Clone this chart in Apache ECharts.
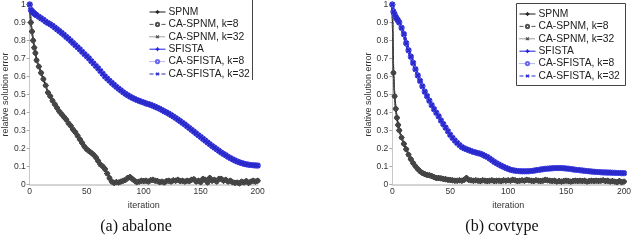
<!DOCTYPE html>
<html><head><meta charset="utf-8">
<script src="https://cdn.jsdelivr.net/npm/echarts@6/dist/echarts.min.js"></script>
<style>html,body{margin:0;padding:0;background:#fff}#c{width:640px;height:251px}</style>
</head><body><div id="c"></div>
<script>
const iterations = [0,1,2,3,4,5,6,8,10,12,14,16,18,20,22,24,26,28,30,32,34,36,38,40,42,44,46,48,50,52,54,56,58,60,62,64,66,68,70,72,74,76,78,80,82,84,86,88,90,92,94,96,98,100,102,104,106,108,110,112,114,116,118,120,122,124,126,128,130,132,134,136,138,140,142,144,146,148,150,152,154,156,158,160,162,164,166,168,170,172,174,176,178,180,182,184,186,188,190,192,194,196,198,200];
const seriesNames = ['SPNM','CA-SPNM, k=8','CA-SPNM, k=32','SFISTA','CA-SFISTA, k=8','CA-SFISTA, k=32'];
const captions = ['(a) abalone','(b) covtype'];

// abalone
const spnmAbalone = [1.0,0.9,0.85,0.8,0.76,0.73,0.69,0.655,0.62,0.585,0.55,0.51,0.49,0.465,0.445,0.425,0.405,0.39,0.375,0.36,0.34,0.325,0.305,0.29,0.27,0.25,0.23,0.21,0.195,0.185,0.175,0.165,0.15,0.13,0.11,0.1,0.085,0.06,0.035,0.015,0.008,0.012,0.01,0.015,0.02,0.025,0.035,0.04,0.03,0.02,0.012,0.015,0.02,0.018,0.02,0.015,0.022,0.025,0.02,0.018,0.012,0.015,0.01,0.018,0.02,0.015,0.022,0.02,0.025,0.018,0.02,0.015,0.02,0.018,0.025,0.028,0.015,0.02,0.012,0.03,0.025,0.01,0.035,0.02,0.025,0.015,0.03,0.03,0.02,0.025,0.015,0.02,0.012,0.008,0.01,0.005,0.015,0.01,0.018,0.008,0.015,0.02,0.015,0.02];
const sfistaAbalone = [1.0,0.97,0.962,0.956,0.95,0.945,0.94,0.932,0.923,0.915,0.905,0.897,0.89,0.882,0.872,0.862,0.852,0.842,0.832,0.82,0.81,0.798,0.786,0.774,0.762,0.75,0.737,0.724,0.712,0.7,0.685,0.672,0.658,0.645,0.63,0.615,0.6,0.588,0.576,0.564,0.553,0.542,0.532,0.522,0.512,0.503,0.495,0.488,0.481,0.475,0.469,0.464,0.459,0.455,0.45,0.446,0.442,0.437,0.432,0.426,0.42,0.413,0.406,0.4,0.393,0.385,0.377,0.369,0.36,0.351,0.342,0.333,0.323,0.313,0.303,0.293,0.283,0.273,0.263,0.253,0.243,0.233,0.223,0.213,0.204,0.195,0.186,0.177,0.169,0.161,0.153,0.146,0.139,0.133,0.127,0.122,0.118,0.114,0.111,0.109,0.107,0.106,0.105,0.104];
// covtype
const spnmCovtype = [1.0,0.62,0.49,0.42,0.37,0.33,0.3,0.26,0.225,0.195,0.165,0.14,0.118,0.1,0.085,0.072,0.063,0.057,0.052,0.05,0.046,0.04,0.035,0.035,0.033,0.03,0.028,0.025,0.024,0.022,0.02,0.02,0.022,0.02,0.025,0.035,0.025,0.022,0.02,0.022,0.02,0.018,0.022,0.02,0.018,0.02,0.022,0.018,0.02,0.02,0.018,0.022,0.02,0.022,0.02,0.025,0.022,0.018,0.02,0.022,0.02,0.025,0.022,0.02,0.018,0.022,0.02,0.018,0.02,0.025,0.022,0.02,0.018,0.02,0.015,0.018,0.015,0.018,0.02,0.018,0.015,0.018,0.02,0.018,0.02,0.018,0.02,0.015,0.018,0.02,0.018,0.02,0.018,0.02,0.022,0.018,0.02,0.015,0.018,0.015,0.012,0.018,0.012,0.015];
const sfistaCovtype = [1.0,0.96,0.945,0.93,0.92,0.91,0.9,0.87,0.835,0.785,0.745,0.71,0.675,0.64,0.605,0.575,0.545,0.515,0.49,0.465,0.44,0.418,0.398,0.378,0.355,0.335,0.315,0.295,0.275,0.258,0.243,0.23,0.218,0.207,0.2,0.195,0.19,0.185,0.18,0.177,0.173,0.17,0.165,0.158,0.152,0.143,0.134,0.125,0.117,0.11,0.103,0.097,0.091,0.086,0.081,0.078,0.076,0.074,0.073,0.072,0.072,0.072,0.073,0.074,0.076,0.078,0.08,0.082,0.084,0.086,0.087,0.088,0.089,0.09,0.09,0.09,0.09,0.089,0.088,0.087,0.085,0.083,0.081,0.08,0.078,0.077,0.075,0.074,0.072,0.071,0.07,0.069,0.068,0.067,0.066,0.066,0.065,0.065,0.064,0.064,0.063,0.063,0.062,0.062];

const PLUS = 'path://M4,0H6V4H10V6H6V10H4V6H0V4H4Z';
const styles = [
  {color:'#1a1a1a', type:'solid', symbol:PLUS, size:5, rot:0},
  {color:'#555555', type:'dashed', symbol:'emptyCircle', size:3, rot:0},
  {color:'#444444', type:'dotted', symbol:PLUS, size:4, rot:45},
  {color:'#1c1cdc', type:'solid', symbol:PLUS, size:5, rot:0},
  {color:'#6a6af0', type:'dotted', symbol:'emptyCircle', size:4, rot:0},
  {color:'#2a2acc', type:'dashed', symbol:PLUS, size:5, rot:45}
];
function pairs(vals){ return iterations.map((x,i)=>[x,vals[i]]); }
const dataSets = [
  [spnmAbalone,spnmAbalone,spnmAbalone,sfistaAbalone,sfistaAbalone,sfistaAbalone],
  [spnmCovtype,spnmCovtype,spnmCovtype,sfistaCovtype,sfistaCovtype,sfistaCovtype]
];
const series = [];
[0,1].forEach(g=>{
  seriesNames.forEach((n,i)=>{
    const s = styles[i];
    series.push({
      name:n, type:'line', xAxisIndex:g, yAxisIndex:g,
      data:pairs(dataSets[g][i]),
      symbol:s.symbol, symbolSize:s.size, symbolRotate:s.rot, showSymbol:true,
      lineStyle:{color:s.color, width: i>=3?3:1.5, type:s.type},
      itemStyle:{color:s.color, borderColor:s.color, borderWidth:1},
      animation:false, z: i>=3?3:2
    });
  });
});
const FONT = 'Liberation Sans';
function xAx(g){return {type:'value', gridIndex:g, min:0, max:200, interval:50,
  name:'iteration', nameLocation:'middle', nameGap:13, nameTextStyle:{fontFamily:FONT,fontSize:9,color:'#333'},
  axisLine:{show:true, onZero:false, lineStyle:{color:'#c8c8c8', width:1.5}},
  axisTick:{show:false}, splitLine:{show:false},
  axisLabel:{fontFamily:FONT, fontSize:8.5, color:'#333', margin:3}};}
function yAx(g){return {type:'value', gridIndex:g, min:0, max:1, interval:0.1,
  name:'relative solution error', nameLocation:'middle', nameGap:17, nameTextStyle:{fontFamily:FONT,fontSize:9,color:'#333'},
  axisLine:{show:true, lineStyle:{color:'#c8c8c8', width:1}},
  axisTick:{show:true, length:3, lineStyle:{color:'#aaa'}}, splitLine:{show:false},
  axisLabel:{fontFamily:FONT, fontSize:8.5, color:'#333', margin:4, formatter:v=>String(Math.round(v*10)/10)}};}
const legendBase = {orient:'vertical', data:seriesNames, padding:0, itemWidth:16, itemHeight:4, itemGap:0.4,
  lineStyle:{width:1}, itemStyle:{borderWidth:0.8},
  textStyle:{fontFamily:FONT, fontSize:10.3, color:'#222', lineHeight:12, padding:[0,0,0,-2]}, selectedMode:false};
const option = {
  animation:false,
  grid:[{left:26.7, right:382.3, top:4, bottom:66.7},{left:392.3, right:16, top:4, bottom:66.7}],
  xAxis:[xAx(0),xAx(1)], yAxis:[yAx(0),yAx(1)],
  legend:[Object.assign({left:149, top:6}, legendBase), Object.assign({left:519, top:8}, legendBase)],
  series:series,
  graphic:[
    {type:'line', shape:{x1:252.5,y1:0,x2:252.5,y2:80}, style:{stroke:'#444', lineWidth:1}},
    {type:'rect', shape:{x:516.5,y:3.5,width:109,height:82}, style:{fill:'none', stroke:'#444', lineWidth:1}},
    {type:'text', x:136, y:227, style:{text:captions[0], font:'16px "Liberation Serif"', fill:'#111', align:'center', verticalAlign:'middle'}},
    {type:'text', x:502, y:227, style:{text:captions[1], font:'16px "Liberation Serif"', fill:'#111', align:'center', verticalAlign:'middle'}}
  ]
};
echarts.init(document.getElementById('c'),null,{renderer:'canvas'}).setOption(option);
</script></body></html>
